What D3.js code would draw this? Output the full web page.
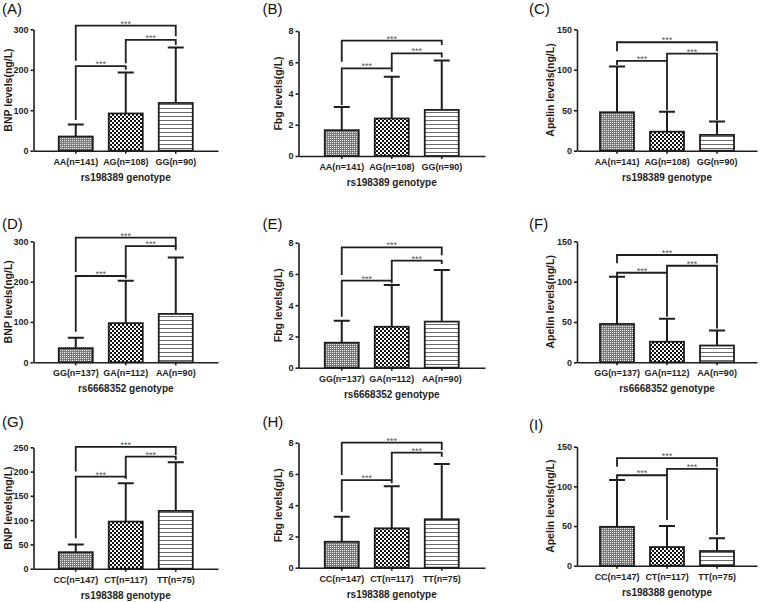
<!DOCTYPE html>
<html><head><meta charset="utf-8">
<script src="https://cdn.jsdelivr.net/npm/d3@7"></script>
<style>
html,body{margin:0;padding:0;background:#fff;}
svg{display:block;font-family:"Liberation Sans",Arial,Helvetica,sans-serif;}
</style></head><body>
<svg id="chart" width="761" height="602"></svg>
<script>
// ---------------- data ----------------
const panelLabels = [["(A)","(B)","(C)"],["(D)","(E)","(F)"],["(G)","(H)","(I)"]];
const snpTitles = ["rs198389 genotype","rs6668352 genotype","rs198388 genotype"];
const genotypeCategories = [
  ["AA(n=141)","AG(n=108)","GG(n=90)"],
  ["GG(n=137)","GA(n=112)","AA(n=90)"],
  ["CC(n=147)","CT(n=117)","TT(n=75)"]
];
const measureTitles = ["BNP levels(ng/L)","Fbg levels(g/L)","Apelin levels(ng/L)"];
const yTicksBNP = [[0,100,200,300],[0,100,200,300],[0,50,100,150,200,250]];
const yTicksFbg = [0,2,4,6,8];
const yTicksApelin = [0,50,100,150];

const bnpMean = [[35,92,118],[35,97,120],[34,97,119]];
const bnpSD   = [[30,101,137],[26,105,140],[16,79,100]];
const fbgMean = [[1.65,2.4,2.95],[1.6,2.62,2.95],[1.66,2.52,3.1]];
const fbgSD   = [[1.48,2.68,3.17],[1.4,2.67,3.31],[1.6,2.7,3.54]];
const apelinMean = [[47.5,23.5,19.5],[47.5,25.5,20.8],[49,23.5,18.5]];
const apelinSD   = [[56.5,24.5,16.5],[58.5,28.5,18.7],[59,26.5,16]];

const significance = "***";
// brackets: [from group, to group, line level, left leg end, right leg end] (data units)
const bnpBrackets = [
  [[0,2,309,222,283],[1,2,274,216,261],[0,1,209,76,200]],
  [[0,2,309,224,286],[1,2,288,212,278],[0,1,214,76,208]],
  [[0,2,251,200,234],[1,2,231,186,224],[0,1,189.5,62.6,186]]
];
const fbgBrackets = [
  [[0,2,7.38,6.03,7.1],[1,2,6.57,5.6,6.3],[0,1,5.61,3.26,5.4]],
  [[0,2,7.7,5.93,7.2],[1,2,6.85,5.6,6.64],[0,1,5.57,3.26,5.4]],
  [[0,2,8.0,5.93,7.53],[1,2,7.36,5.61,7.1],[0,1,5.61,3.58,5.4]]
];
const apelinBrackets = [
  [[0,2,134,123,123],[0,1,111,106,50],[1,2,120,111,38]],
  [[0,2,133,122.7,122.7],[0,1,111,105,56.5],[1,2,119.7,111,42]],
  [[0,2,135.5,124.8,124.8],[0,1,114,108,57.6],[1,2,122,114,38.7]]
];

// ---------------- layout ----------------
const colX0 = [33.5, 298.5, 577];
const colX1 = [218, 485, 757];
const panelY0   = [[150.7,156,150.7],[362.3,367.7,362.3],[568.7,567.7,565.7]];
const panelYTop = [[29.3,31,29.3],[241.3,242.7,241.3],[447.3,442.7,446.7]];
const labelX = [2, 262.5, 529];
const labelY = [[14,14,14],[229,229,229],[427,427,430]];
const yTitleX = [8, 278, 550];

const svg = d3.select("#chart");
svg.append("rect").attr("width",761).attr("height",602).attr("fill","#fff");

// patterns
const defs = svg.append("defs");
const p0 = defs.append("pattern").attr("id","pat0").attr("patternUnits","userSpaceOnUse").attr("width",4).attr("height",4);
p0.append("rect").attr("width",4).attr("height",4).attr("fill","#7a7a7a");
p0.append("rect").attr("x",0).attr("y",0).attr("width",1).attr("height",1).attr("fill","#fff");
p0.append("rect").attr("x",2).attr("y",2).attr("width",1).attr("height",1).attr("fill","#fff");
p0.append("rect").attr("x",2).attr("y",0).attr("width",1).attr("height",1).attr("fill","#d8d8d8");
p0.append("rect").attr("x",0).attr("y",2).attr("width",1).attr("height",1).attr("fill","#d8d8d8");
const p1 = defs.append("pattern").attr("id","pat1").attr("patternUnits","userSpaceOnUse").attr("width",4).attr("height",4);
p1.append("rect").attr("width",4).attr("height",4).attr("fill","#111");
p1.append("rect").attr("x",0).attr("y",0).attr("width",2).attr("height",2).attr("fill","#fff");
p1.append("rect").attr("x",2).attr("y",2).attr("width",2).attr("height",2).attr("fill","#fff");
const p2 = defs.append("pattern").attr("id","pat2").attr("patternUnits","userSpaceOnUse").attr("width",4).attr("height",4);
p2.append("rect").attr("width",4).attr("height",4).attr("fill","#fff");
p2.append("rect").attr("x",0).attr("y",0).attr("width",4).attr("height",1).attr("fill","#6a6a6a");
const patterns = ["url(#pat0)","url(#pat1)","url(#pat2)"];

const measures = [
  {mean: bnpMean, sd: bnpSD, brackets: bnpBrackets, ticks: r => yTicksBNP[r]},
  {mean: fbgMean, sd: fbgSD, brackets: fbgBrackets, ticks: r => yTicksFbg},
  {mean: apelinMean, sd: apelinSD, brackets: apelinBrackets, ticks: r => yTicksApelin}
];

const ink = "#1e1e1e";

for (let r = 0; r < 3; r++) {
  for (let c = 0; c < 3; c++) {
    const m = measures[c];
    const ticks = m.ticks(r);
    const yMax = ticks[ticks.length-1];
    const y = d3.scaleLinear().domain([0, yMax]).range([panelY0[r][c], panelYTop[r][c]]);
    const x0 = colX0[c], x1 = colX1[c];
    const po = ((x1 - x0)/50 - 3 + 0.32)/2;
    const x = d3.scaleBand().domain([0,1,2]).range([x0, x1]).paddingInner(0.32).paddingOuter(po);
    const cats = genotypeCategories[r];
    const g = svg.append("g");

    // axes
    const ya = g.append("g").attr("transform",`translate(${x0},0)`)
      .call(d3.axisLeft(y).tickValues(ticks).tickSize(3).tickSizeOuter(0).tickPadding(2));
    const xa = g.append("g").attr("transform",`translate(0,${panelY0[r][c]})`)
      .call(d3.axisBottom(x).tickSize(3).tickSizeOuter(0).tickPadding(4.5).tickFormat(i => cats[i]));
    [ya, xa].forEach(a => {
      a.selectAll("path,line").attr("stroke", ink).attr("stroke-width", 1.6);
      a.selectAll("text").attr("fill", ink).attr("font-weight","bold")
        .attr("font-family","'Liberation Sans',Arial,sans-serif");
    });
    ya.selectAll("text").attr("font-size", 9);
    xa.selectAll("text").attr("font-size", 9);

    const data = [0,1,2].map(i => ({i, mean: m.mean[r][i], sd: m.sd[r][i]}));

    // error bars (upper only)
    g.selectAll(".err").data(data).enter().append("path")
      .attr("d", d => {
        const cx = x(d.i) + x.bandwidth()/2;
        const yt = y(d.mean + d.sd);
        return `M${cx},${y(d.mean)}V${yt}M${cx-8},${yt}H${cx+8}`;
      })
      .attr("stroke", ink).attr("stroke-width", 2).attr("fill","none");

    // bars
    g.selectAll(".bar").data(data).enter().append("rect")
      .attr("x", d => x(d.i))
      .attr("width", x.bandwidth())
      .attr("y", d => y(d.mean))
      .attr("height", d => y(0) - y(d.mean))
      .attr("fill", d => patterns[d.i])
      .attr("stroke", ink).attr("stroke-width", 1.8);

    // significance brackets
    const br = m.brackets[r].map(b => ({from:b[0], to:b[1], level:b[2], leftEnd:b[3], rightEnd:b[4]}));
    const cxOf = i => x(i) + x.bandwidth()/2;
    g.selectAll(".br").data(br).enter().append("path")
      .attr("d", d => `M${cxOf(d.from)},${y(d.leftEnd)}V${y(d.level)}H${cxOf(d.to)}V${y(d.rightEnd)}`)
      .attr("stroke", ink).attr("stroke-width", 1.8).attr("fill","none");
    g.selectAll(".st").data(br).enter().append("text")
      .attr("x", d => (cxOf(d.from)+cxOf(d.to))/2)
      .attr("y", d => y(d.level) + 1)
      .attr("text-anchor","middle")
      .attr("font-size", 9).attr("fill", "#555")
      .text(significance);

    // axis titles
    g.append("text")
      .attr("x", (x0 + x1)/2).attr("y", panelY0[r][c] + 30)
      .attr("text-anchor","middle").attr("font-size", 10).attr("font-weight","bold").attr("fill", ink)
      .text(snpTitles[r]);
    const ym = (panelY0[r][c] + panelYTop[r][c])/2;
    g.append("text")
      .attr("transform", `translate(${yTitleX[c] + 3.6},${ym}) rotate(-90)`)
      .attr("text-anchor","middle").attr("font-size", 10.5).attr("font-weight","bold").attr("fill", ink)
      .text(measureTitles[c]);

    // panel label
    svg.append("text").attr("x", labelX[c]).attr("y", labelY[r][c])
      .attr("font-size", 15).attr("fill", "#111").text(panelLabels[r][c]);
  }
}
</script>
</body></html>
